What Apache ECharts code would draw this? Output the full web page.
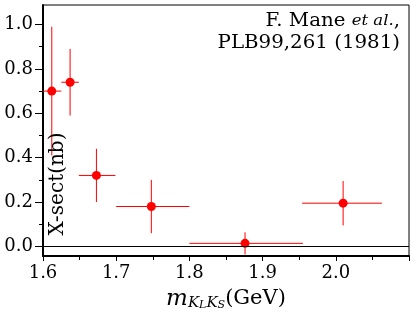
<!DOCTYPE html>
<html><head><meta charset="utf-8">
<script src="https://cdn.jsdelivr.net/npm/echarts@6/dist/echarts.min.js"></script>
<style>html,body{margin:0;padding:0;background:#fff}#c{width:412px;height:310px}</style>
</head><body><div id="c"></div>
<script>
// Data
var massCenter = [1.612, 1.637, 1.673, 1.748, 1.876, 2.010];
var xsect      = [0.700, 0.740, 0.320, 0.180, 0.014, 0.195];
var binLow     = [1.600, 1.625, 1.649, 1.700, 1.800, 1.954];
var binHigh    = [1.625, 1.649, 1.699, 1.800, 1.955, 2.063];
var xsectErr   = [0.290, 0.150, 0.120, 0.120, 0.050, 0.100];
var yMajorTicks = [0.0, 0.2, 0.4, 0.6, 0.8, 1.0];
var yMinorTicks = [0.1, 0.3, 0.5, 0.7, 0.9];

var FONT = 'DejaVu Serif';
var pts = massCenter.map(function(x,i){return [x, xsect[i]];});
var errs = massCenter.map(function(x,i){return [x, xsect[i], binLow[i], binHigh[i], xsect[i]-xsectErr[i], xsect[i]+xsectErr[i]];});

var chart = echarts.init(document.getElementById('c'), null, {renderer:'canvas'});
chart.setOption({
  animation:false,
  backgroundColor:'#fff',
  grid:{left:43, right:3, top:5, bottom:54, show:true, borderColor:'#000', borderWidth:1, backgroundColor:'transparent',
        containLabel:false, outerBoundsMode:'none'},
  xAxis:{
    type:'value', min:1.6, max:2.1, interval:0.1,
    axisLine:{show:true, onZero:false, lineStyle:{color:'#000', width:2}},
    axisTick:{show:true, length:5, lineStyle:{color:'#000', width:1}},
    minorTick:{show:true, splitNumber:2, length:4, lineStyle:{color:'#000', width:1}},
    splitLine:{show:false},
    axisLabel:{showMaxLabel:false, color:'#000', fontFamily:FONT, fontSize:18, margin:8,
      formatter:function(v){return v.toFixed(1);}},
    name:'{m|m}{k|K}{l|L}{k|K}{l|S}{n|(GeV)}',
    nameLocation:'middle', nameGap:28,
    nameTextStyle:{color:'#000', rich:{
      m:{fontFamily:FONT, fontStyle:'italic', fontSize:23, lineHeight:26, color:'#000'},
      k:{fontFamily:FONT, fontStyle:'italic', fontSize:15, lineHeight:17, padding:[9,0,0,0], color:'#000'},
      l:{fontFamily:FONT, fontStyle:'italic', fontSize:11, lineHeight:13, padding:[13,0,0,0], color:'#000'},
      n:{fontFamily:FONT, fontSize:21, lineHeight:26, color:'#000'}
    }}
  },
  yAxis:[{
    type:'value', min:-0.043, max:1.088,
    axisLine:{show:true, onZero:false, lineStyle:{color:'#000', width:2}},
    axisTick:{show:true, length:8, customValues:yMajorTicks, lineStyle:{color:'#000', width:1}},
    splitLine:{show:false},
    axisLabel:{customValues:yMajorTicks, color:'#000', fontFamily:FONT, fontSize:18, margin:10,
      formatter:function(v){return v.toFixed(1);}}
  },{
    type:'value', min:-0.043, max:1.088, position:'left',
    axisLine:{show:false},
    axisTick:{show:true, length:4, customValues:yMinorTicks, lineStyle:{color:'#000', width:1}},
    splitLine:{show:false},
    axisLabel:{show:false}
  }],
  graphic:[
    {type:'text', x:400, y:10, scaleX:1.1, z:10, style:{
      text:'F. Mane {i|et al.},\nPLB99,261 (1981)', align:'right', verticalAlign:'top',
      fill:'#000', font:'18px "DejaVu Serif"', lineHeight:22,
      rich:{i:{fontFamily:FONT, fontStyle:'italic', fontSize:15, lineHeight:22, fill:'#000'}}
    }},
    {type:'text', x:58, y:184, rotation:Math.PI/2, z:10, style:{
      text:'X-sect(nb)', align:'center', verticalAlign:'middle',
      fill:'#000', font:'20px "DejaVu Serif"'
    }}
  ],
  series:[
    {type:'custom', xAxisIndex:0, yAxisIndex:0, data:errs, z:3, silent:true,
     renderItem:function(params, api){
       var y = api.value(1);
       var a = api.coord([api.value(2), y]);
       var b = api.coord([api.value(3), y]);
       var c = api.coord([api.value(0), api.value(4)]);
       var d = api.coord([api.value(0), api.value(5)]);
       return {type:'group', children:[
         {type:'line', shape:{x1:a[0], y1:a[1], x2:b[0], y2:b[1]}, style:{stroke:'#ff0000', lineWidth:1}},
         {type:'line', shape:{x1:c[0], y1:c[1], x2:d[0], y2:d[1]}, style:{stroke:'#ff0000', lineWidth:1}}
       ]};
     },
     markLine:{silent:true, symbol:'none', label:{show:false}, lineStyle:{color:'#000', width:1, type:'solid'},
       data:[{yAxis:0}]}
    },
    {type:'scatter', data:pts, symbol:'circle', symbolSize:9, z:4,
     itemStyle:{color:'#ff0000', opacity:1}}
  ]
});
</script></body></html>
